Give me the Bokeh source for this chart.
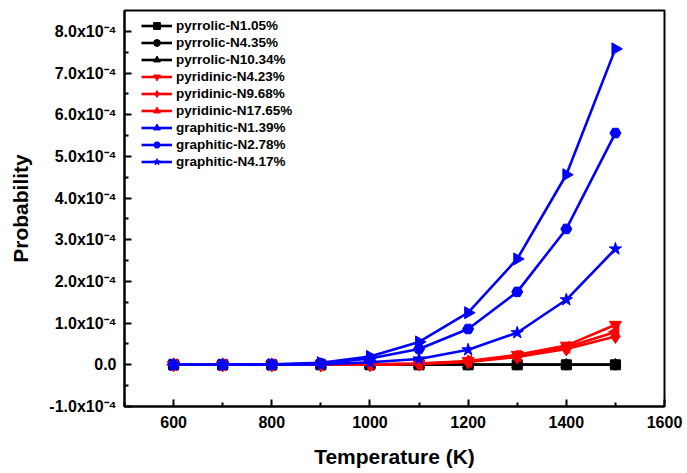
from bokeh.plotting import figure
from bokeh.models import Range1d, FixedTicker, CustomJSTickFormatter, Legend, LegendItem
from bokeh.embed import file_html
from bokeh.resources import INLINE

# Temperature (K)
temperature = [600, 700, 800, 900, 1000, 1100, 1200, 1300, 1400, 1500]

# Probability values
pyrrolic_N1_05 = [0, 0, 0, 0, 0, 0, 0, 0, 0, 0]
pyrrolic_N4_35 = [0, 0, 0, 0, 0, 0, 0, 0, 0, 0]
pyrrolic_N10_34 = [0, 0, 0, 0, 0, 0, 0, 0, 0, 0]
pyridinic_N4_23 = [0, 0, 0, 0, 0.01e-4, 0.03e-4, 0.09e-4, 0.24e-4, 0.46e-4, 0.96e-4]
pyridinic_N9_68 = [0, 0, 0, 0, 0.005e-4, 0.02e-4, 0.07e-4, 0.19e-4, 0.38e-4, 0.68e-4]
pyridinic_N17_65 = [0, 0, 0, 0, 0.005e-4, 0.025e-4, 0.08e-4, 0.21e-4, 0.42e-4, 0.79e-4]
graphitic_N1_39 = [0, 0, 0.01e-4, 0.05e-4, 0.2e-4, 0.55e-4, 1.25e-4, 2.54e-4, 4.56e-4, 7.58e-4]
graphitic_N2_78 = [0, 0, 0.005e-4, 0.03e-4, 0.15e-4, 0.38e-4, 0.86e-4, 1.75e-4, 3.26e-4, 5.56e-4]
graphitic_N4_17 = [0, 0, 0, 0.01e-4, 0.06e-4, 0.14e-4, 0.36e-4, 0.77e-4, 1.56e-4, 2.78e-4]

labels = ["pyrrolic-N1.05%", "pyrrolic-N4.35%", "pyrrolic-N10.34%",
          "pyridinic-N4.23%", "pyridinic-N9.68%", "pyridinic-N17.65%",
          "graphitic-N1.39%", "graphitic-N2.78%", "graphitic-N4.17%"]

x_ticks = [600, 800, 1000, 1200, 1400, 1600]
x_minor = [500, 700, 900, 1100, 1300, 1500]
y_ticks = [-1e-4, 0.0, 1e-4, 2e-4, 3e-4, 4e-4, 5e-4, 6e-4, 7e-4, 8e-4]
y_minor = [-0.5e-4, 0.5e-4, 1.5e-4, 2.5e-4, 3.5e-4, 4.5e-4, 5.5e-4, 6.5e-4, 7.5e-4]

FONT = "Liberation Sans"

p = figure(width=687, height=473, output_backend="svg", toolbar_location=None,
           x_range=Range1d(500, 1600), y_range=Range1d(-1.0e-4, 8.5e-4),
           min_border_left=124, min_border_right=23, min_border_top=10, min_border_bottom=67)
p.background_fill_color = "white"
p.border_fill_color = "white"
p.xgrid.visible = False
p.ygrid.visible = False
p.outline_line_color = "black"
p.outline_line_width = 2
p.outline_line_alpha = 1.0

series = [
    (pyrrolic_N1_05, "black", "square", 0.0, 10),
    (pyrrolic_N4_35, "black", "circle", 0.0, 10),
    (pyrrolic_N10_34, "black", "triangle", 0.0, 11),
    (pyridinic_N4_23, "#FF0000", "inverted_triangle", 0.0, 12),
    (pyridinic_N9_68, "#FF0000", "diamond", 0.0, 14),
    (pyridinic_N17_65, "#FF0000", "triangle", 90.0, 12),
    (graphitic_N1_39, "#0000FF", "triangle", -90.0, 12),
    (graphitic_N2_78, "#0000FF", "hex", 0.0, 11),
    (graphitic_N4_17, "#0000FF", "star", 0.0, 13),
]

items = []
for (vals, color, marker, ang, size), lab in zip(series, labels):
    r1 = p.line(temperature, vals, line_color=color, line_width=2.6)
    r2 = p.scatter(temperature, vals, marker=marker, angle=ang, angle_units="deg", size=size,
                   fill_color=color, line_color=color)
    items.append(LegendItem(label=lab, renderers=[r1, r2]))

legend = Legend(items=items, location=(17, 236), padding=0, margin=0, spacing=0,
                glyph_width=31, glyph_height=17, label_height=17, label_standoff=4,
                label_text_font=FONT, label_text_font_style="bold",
                label_text_font_size="13.5px", label_text_color="black",
                background_fill_alpha=0, border_line_alpha=0)
p.add_layout(legend, "center")

# Axes
p.xaxis.ticker = FixedTicker(ticks=x_ticks, minor_ticks=x_minor)
p.yaxis.ticker = FixedTicker(ticks=y_ticks, minor_ticks=y_minor)
p.yaxis.formatter = CustomJSTickFormatter(code="""
const v = Math.round(tick * 1e5) / 10;
if (Math.abs(v) < 1e-9) { return "0.0"; }
return v.toFixed(1) + "x10\u207B\u2074";
""")

for ax in (p.xaxis, p.yaxis):
    ax.axis_line_width = 2
    ax.axis_line_color = "black"
    ax.major_tick_in = 7
    ax.major_tick_out = 0
    ax.minor_tick_in = 4
    ax.minor_tick_out = 0
    ax.major_tick_line_width = 2
    ax.minor_tick_line_width = 2
    ax.major_label_text_font = FONT
    ax.major_label_text_font_style = "bold"
    ax.major_label_text_font_size = "16px"
    ax.major_label_text_color = "black"
    ax.axis_label_text_font = FONT
    ax.axis_label_text_font_style = "bold"
    ax.axis_label_text_font_size = "21px"
    ax.axis_label_text_color = "black"

p.xaxis.axis_label = "Temperature (K)"
p.yaxis.axis_label = "Probability"
p.xaxis.major_label_standoff = 9
p.yaxis.major_label_standoff = 8
p.xaxis.axis_label_standoff = 14
p.yaxis.axis_label_standoff = 14

open("out.html", "w").write(file_html(p, INLINE))
